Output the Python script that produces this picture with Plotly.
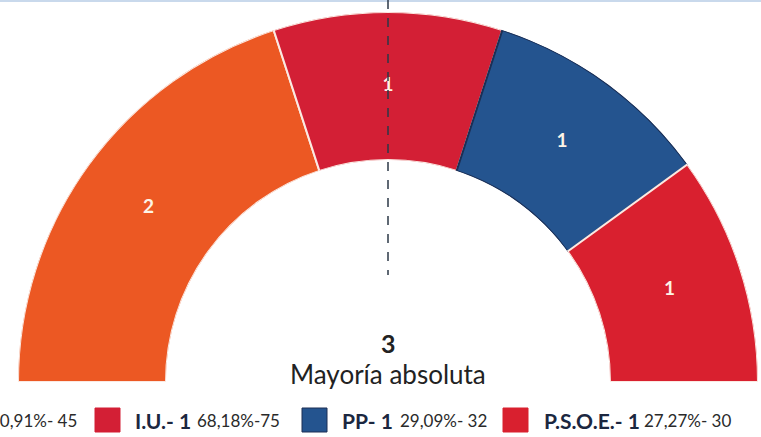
import plotly.graph_objects as go
import numpy as np

# ---- data ----
party_labels = ["", "I.U.", "PP", "P.S.O.E."]
seats = [2, 1, 1, 1]
pct_labels = ["40,91%- 45", "68,18%-75", "29,09%- 32", "27,27%- 30"]
colors = ["#EC5823", "#D31F35", "#24548F", "#D9202F"]
majority = 3
majority_label = "Mayoría absoluta"

W, H = 761, 437

# angular geometry derived from seats (left to right across 180 degrees)
total = sum(seats)
widths = [180 * s / total for s in seats]
ends = 180 - np.cumsum([0] + widths[:-1])
centers = [e - w / 2 for e, w in zip(ends, widths)]

fig = go.Figure()
fig.add_trace(go.Barpolar(
    r=[1] * len(seats), theta=centers, width=widths,
    marker=dict(color=colors, line=dict(color=["#fbe9e2", "#fbe9e2", "#1c2f55", "#fbe9e2"], width=2)),
    hoverinfo="skip", showlegend=False,
))
fig.add_trace(go.Scatterpolar(
    r=[0.5] * len(seats), theta=centers, mode="text",
    text=["<b>%d</b>" % s for s in seats],
    textfont=dict(family="Lato", size=19, color="#fdf4e6"),
    hoverinfo="skip", showlegend=False,
))

cx, cy, R = 388, 382, 370
fig.update_layout(
    width=W, height=H,
    margin=dict(l=0, r=0, t=0, b=0),
    paper_bgcolor="white", plot_bgcolor="white",
    showlegend=False,
    polar=dict(
        domain=dict(x=[(cx - R) / W, (cx + R) / W], y=[(H - cy) / H, (H - cy + R) / H]),
        sector=[0, 180], hole=0.6, bgcolor="rgba(0,0,0,0)",
        radialaxis=dict(visible=False, range=[0, 1]),
        angularaxis=dict(visible=False, direction="counterclockwise", rotation=0),
    ),
)

shapes = [
    dict(type="rect", xref="paper", yref="paper", x0=0, x1=1, y0=1 - 2 / H, y1=1,
         fillcolor="#c9d9ec", line=dict(width=0)),
    dict(type="line", xref="paper", yref="paper", x0=cx / W, x1=cx / W, y0=1, y1=(H - 275) / H,
         line=dict(color="#2c3947", width=1.5, dash="dash")),
]
annotations = [
    dict(text="<b>%d</b>" % majority, x=cx / W, y=(H - 343) / H, xref="paper", yref="paper",
         yanchor="middle", showarrow=False, font=dict(family="Lato", size=25, color="#222222")),
    dict(text=majority_label, x=cx / W, y=(H - 374) / H, xref="paper", yref="paper",
         yanchor="middle", showarrow=False, font=dict(family="Lato", size=26, color="#222222")),
]

# legend (manually laid out, first item runs off the left edge)
sq_x = [-30, 95, 302, 503]
name_x = [None, 133, 340, 542]
pct_x = [None, 195, 398, 642]
ly = (H - 420) / H
for i in range(len(seats)):
    shapes.append(dict(type="rect", xref="paper", yref="paper",
                       x0=sq_x[i] / W, x1=(sq_x[i] + 25) / W, y0=(H - 432) / H, y1=(H - 408) / H,
                       fillcolor=colors[i], line=dict(color="#1c2f55" if i == 2 else colors[i], width=1)))
    if i == 0:
        annotations.append(dict(text=pct_labels[i], x=79 / W, y=ly, xref="paper", yref="paper",
                                xanchor="right", yanchor="middle", showarrow=False,
                                font=dict(family="Lato", size=17, color="#2a2a2a")))
        continue
    annotations.append(dict(text="<b>%s- %d</b>" % (party_labels[i], seats[i]), x=name_x[i] / W, y=ly,
                            xref="paper", yref="paper", xanchor="left", yanchor="middle", showarrow=False,
                            font=dict(family="Lato", size=21, color="#1b2740")))
    annotations.append(dict(text=pct_labels[i], x=pct_x[i] / W, y=ly,
                            xref="paper", yref="paper", xanchor="left", yanchor="middle", showarrow=False,
                            font=dict(family="Lato", size=17, color="#2a2a2a")))

fig.update_layout(shapes=shapes, annotations=annotations)
fig.write_html("out.html", config={"displayModeBar": False},
               post_script="document.body.style.margin='0';document.body.style.overflow='hidden';")
